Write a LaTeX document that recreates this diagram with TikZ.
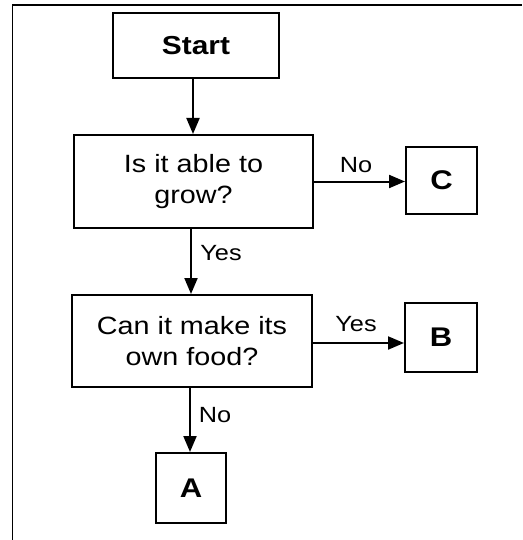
\documentclass[tikz,border=0pt]{standalone}
\usepackage{fontspec}
\setmainfont{Liberation Sans}[FakeStretch=1.15]
\usetikzlibrary{arrows.meta}
\begin{document}
\begin{tikzpicture}[x=1pt,y=-1pt,
  box/.style={draw,line width=2pt,inner sep=0pt,align=center,font=\fontsize{25}{31}\selectfont},
  arr/.style={line width=2pt,-{Triangle[length=16pt,width=13pt]}},
  lab/.style={font=\fontsize{22}{24}\selectfont,inner sep=0pt}]
\useasboundingbox (0,0) rectangle (522,540);
\draw[line width=1.6pt] (12.5,540) -- (12.5,5) -- (522,5);
\node[box,minimum width=166pt,minimum height=65pt,font=\bfseries\fontsize{26}{30}\selectfont] (start) at (196,45.5) {Start};
\node[box,minimum width=239pt,minimum height=93pt] (q1) at (193.5,181.5) {Is it able to\\grow?};
\node[box,minimum width=71pt,minimum height=67pt,font=\bfseries\fontsize{27}{30}\selectfont] (c) at (441.5,180.5) {C};
\node[box,minimum width=240pt,minimum height=92pt] (q2) at (192,341) {Can it make its\\own food?};
\node[box,minimum width=72pt,minimum height=69pt,font=\bfseries\fontsize{27}{30}\selectfont] (b) at (441,337.5) {B};
\node[box,minimum width=70pt,minimum height=70pt,font=\bfseries\fontsize{27}{30}\selectfont] (a) at (191,488) {A};
\draw[arr] ([xshift=-3pt]start.south) -- ([xshift=-3pt]start.south |- q1.north);
\draw[arr] ([xshift=-2.5pt]q1.south) -- ([xshift=-2.5pt]q1.south |- q2.north);
\draw[arr] ([xshift=-2pt]q2.south) -- ([xshift=-2pt]q2.south |- a.north);
\draw[arr] (q1.east) -- (q1.east -| c.west);
\draw[arr] ([yshift=-2pt]q2.east) -- ([yshift=-2pt]q2.east -| b.west);
\node[lab] (l1) at (356,165) {No};
\node[lab] (l2) at (221,253) {Yes};
\node[lab] (l3) at (356,324) {Yes};
\node[lab] (l4) at (215,415) {No};
\end{tikzpicture}
\end{document}
